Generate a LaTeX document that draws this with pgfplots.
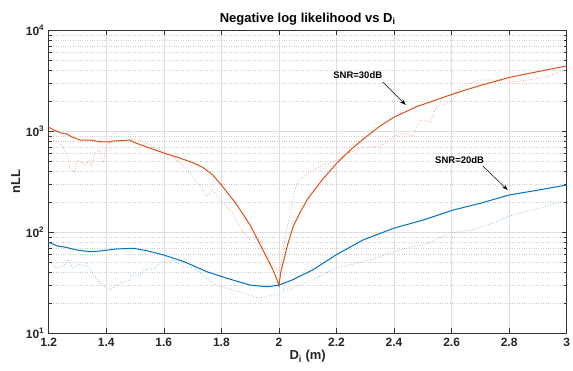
\documentclass[border=0pt]{standalone}
\usepackage{pgfplots}
\pgfplotsset{compat=1.18}
\usepackage{fontspec}
\setmainfont{Liberation Sans}
\usetikzlibrary{arrows.meta}
\definecolor{mo}{RGB}{217,83,25}
\definecolor{mb}{RGB}{0,114,189}
\begin{document}
\begin{tikzpicture}[x=1pt,y=1pt]
\useasboundingbox (-48.7,-36.7) rectangle (524.3,333.3);
\begin{axis}[
  at={(0,0)}, anchor=south west,
  scale only axis, width=518pt, height=303pt,
  xmin=1.2, xmax=3, ymin=10, ymax=10000,
  ymode=log,
  xtick={1.2,1.4,...,3.01},
  xticklabels={1.2,1.4,1.6,1.8,2,2.2,2.4,2.6,2.8,3},
  ytick={10,100,1000,10000},
  yticklabels={10\textsuperscript{1},10\textsuperscript{2},10\textsuperscript{3},10\textsuperscript{4}},
  tick align=inside,
  xtick pos=both, ytick pos=both,
  major tick length=5pt, minor tick length=3pt,
  grid=both,
  xmajorgrids, ymajorgrids, yminorgrids,
  major grid style={gray!25, line width=0.6pt},
  minor grid style={gray!40, dotted, line width=0.5pt},
  axis line style={black!80, line width=0.6pt},
  tick style={black!80, line width=0.5pt},
  tick label style={font=\fontsize{12}{14}\selectfont\bfseries, text=black!85},
  xticklabel style={yshift=-1pt},
  yticklabel style={xshift=-1pt},
  title={Negative log likelihood vs D\textsubscript{i}},
  title style={font=\fontsize{13}{15}\selectfont\bfseries, yshift=-4pt},
  xlabel={D\textsubscript{i} (m)},
  ylabel={nLL},
  label style={font=\fontsize{13}{15}\selectfont\bfseries, text=black!85},
  xlabel style={yshift=3pt},
  ylabel style={yshift=-1pt},
  clip=true,
]
% SNR=30dB dotted
\addplot[mo!65, dotted, line width=0.7pt] coordinates {
(1.2,950)(1.215,820)(1.235,760)(1.25,700)(1.265,560)(1.275,414)(1.29,400)(1.3,520)(1.33,465)(1.34,520)(1.35,450)(1.36,600)(1.375,653)(1.39,490)(1.4,700)(1.425,955)(1.44,1000)(1.475,1000)(1.49,820)(1.52,820)(1.54,760)(1.56,700)(1.6,620)(1.63,560)(1.66,482)(1.69,384)(1.73,283)(1.75,224)(1.77,263)(1.8,200)(1.84,155)(1.87,105)(1.9,84)(1.92,90)(1.94,78)(1.97,49)(2.0,42)(2.01,53)(2.025,105)(2.035,132)(2.045,178)(2.055,263)(2.07,330)(2.11,400)(2.15,460)(2.205,520)(2.234,600)(2.293,703)(2.35,703)(2.385,820)(2.41,919)(2.44,955)(2.465,883)(2.478,1108)(2.49,1288)(2.525,1250)(2.548,1750)(2.583,1890)(2.605,2040)(2.63,2760)(2.70,3220)(2.755,3220)(2.813,3100)(2.87,3220)(2.93,3470)(3.0,4050)
};
% SNR=20dB dotted
\addplot[mb!55, dotted, line width=0.7pt] coordinates {
(1.2,51)(1.228,44)(1.262,49)(1.268,54)(1.285,44)(1.31,49)(1.32,45)(1.33,49)(1.345,42.4)(1.378,31.3)(1.413,26.8)(1.447,31.3)(1.48,33.7)(1.49,37.8)(1.51,36.5)(1.532,42.4)(1.567,44)(1.59,51)(1.62,49)(1.63,53)(1.67,46)(1.71,44)(1.74,36.5)(1.78,30)(1.82,27.8)(1.88,24.9)(1.93,22.2)(1.97,24)(2.0,24)(2.01,25)(2.02,28)(2.035,27)(2.07,30)(2.117,33.8)(2.198,44.4)(2.292,51)(2.35,57)(2.4,64)(2.465,72)(2.52,78)(2.59,98)(2.67,105)(2.755,127)(2.81,148)(2.905,173)(3.0,209)
};
% SNR=30dB solid
\addplot[mo, line width=1pt] coordinates {
(1.2,1096)(1.215,1040)(1.242,962)(1.264,940)(1.28,880)(1.309,820)(1.344,820)(1.378,789)(1.413,783)(1.42,800)(1.448,807)(1.48,820)(1.5,771)(1.55,684)(1.6,610)(1.655,544)(1.7,490)(1.735,440)(1.77,370)(1.8,294)(1.85,194)(1.9,118)(1.95,62)(1.98,42)(1.995,33)(2.0,29.4)(2.006,40)(2.017,53)(2.03,75)(2.05,115)(2.075,160)(2.1,214)(2.15,330)(2.2,480)(2.25,660)(2.3,870)(2.35,1120)(2.4,1380)(2.478,1753)(2.605,2340)(2.7,2850)(2.803,3426)(2.9,3900)(3.0,4436)
};
% SNR=20dB solid
\addplot[mb, line width=1pt] coordinates {
(1.2,79.6)(1.228,73.6)(1.26,71)(1.297,66.8)(1.344,64.3)(1.378,65.3)(1.436,68.4)(1.494,69.5)(1.54,65.8)(1.6,59.6)(1.67,51.2)(1.75,40.7)(1.82,35)(1.9,30)(1.96,28.9)(2.0,30)(2.047,33.8)(2.117,42.4)(2.198,59.6)(2.292,84)(2.4,110)(2.5,132)(2.605,166)(2.7,194)(2.8,234)(2.905,263)(3.0,294)
};
\node[font=\fontsize{9.5}{11}\selectfont\bfseries] at (axis cs:2.274,3630) {SNR=30dB};
\draw[-{Stealth[length=6pt,width=4pt]}, line width=0.5pt] (axis cs:2.361,3075) -- (axis cs:2.441,1820);
\node[font=\fontsize{9.5}{11}\selectfont\bfseries] at (axis cs:2.628,520) {SNR=20dB};
\draw[-{Stealth[length=6pt,width=4pt]}, line width=0.5pt] (axis cs:2.708,454) -- (axis cs:2.795,262);
\end{axis}
\end{tikzpicture}
\end{document}
